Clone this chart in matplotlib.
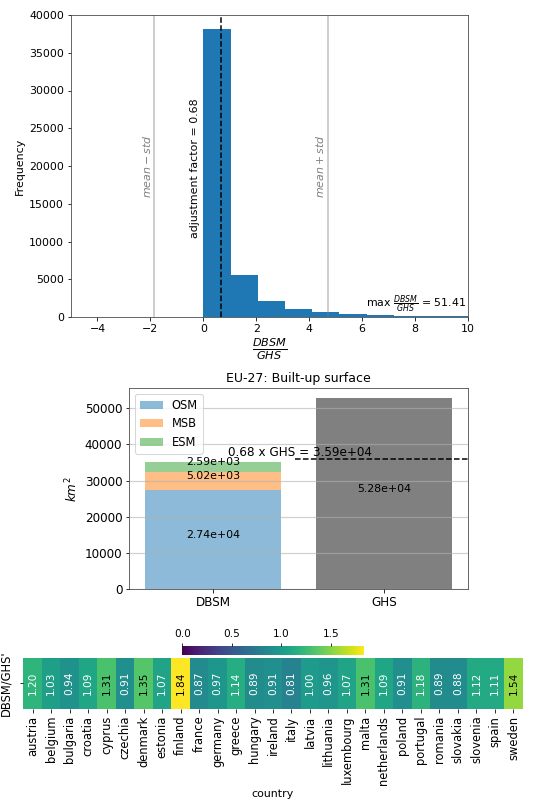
import numpy as np
import matplotlib
matplotlib.use("Agg")
import matplotlib.pyplot as plt
from matplotlib import colors

# --- histogram of DBSM/GHS ratio (50 bins between 0 and the max)
ratio_max = 51.41
hist_counts = [38200, 5550, 2080, 1100, 660, 360, 220, 170, 130, 100,
               80, 65, 52, 42, 35, 29, 24, 20, 17, 14,
               12, 10, 9, 8, 7, 6, 5, 5, 4, 4,
               3, 3, 3, 2, 2, 2, 2, 1, 1, 1,
               1, 1, 1, 1, 0, 0, 1, 0, 0, 1]
mean_minus_std = -1.87
mean_plus_std = 4.70
adj_factor = 0.68

# --- EU-27 built-up surface (km^2)
dbsm_parts = ["OSM", "MSB", "ESM"]
dbsm_values = [27400, 5020, 2590]
ghs_value = 52800

# --- per-country ratio
countries = ["austria", "belgium", "bulgaria", "croatia", "cyprus", "czechia",
             "denmark", "estonia", "finland", "france", "germany", "greece",
             "hungary", "ireland", "italy", "latvia", "lithuania", "luxembourg",
             "malta", "netherlands", "poland", "portugal", "romania", "slovakia",
             "slovenia", "spain", "sweden"]
country_ratio = [1.20, 1.03, 0.94, 1.09, 1.31, 0.91, 1.35, 1.07, 1.84, 0.87,
                 0.97, 1.14, 0.89, 0.91, 0.81, 1.00, 0.96, 1.07, 1.31, 1.09,
                 0.91, 1.18, 0.89, 0.88, 1.12, 1.11, 1.54]

plt.rcParams["font.size"] = 11
plt.rcParams["axes.edgecolor"] = "#444444"
W, H = 534, 802
fig = plt.figure(figsize=(W / 72, H / 72), dpi=72)


def box(l, r, t, b):
    return [l / W, 1 - b / H, (r - l) / W, (b - t) / H]


# ---------------- histogram
ax1 = fig.add_axes(box(71, 468, 15, 317))
edges = np.linspace(0, ratio_max, len(hist_counts) + 1)
ax1.hist(edges[:-1], bins=edges, weights=hist_counts, color="#1f77b4")
ax1.axvline(mean_minus_std, color="gray", alpha=0.5)
ax1.axvline(mean_plus_std, color="gray", alpha=0.5)
ax1.axvline(adj_factor, color="k", ls="--", lw=1.5)
ax1.text(mean_minus_std - 0.27, 15700, r"$mean - std$", rotation=90,
         color="gray", ha="center", va="bottom")
ax1.text(mean_plus_std - 0.28, 15700, r"$mean + std$", rotation=90,
         color="gray", ha="center", va="bottom")
ax1.text(adj_factor - 1.0, 10400, "adjustment factor = %.2f" % adj_factor,
         rotation=90, ha="center", va="bottom")
ax1.text(9.95, 250, r"max $\frac{DBSM}{GHS}$ = %.2f" % ratio_max,
         ha="right", va="bottom")
ax1.set_xlim(-5, 10)
ax1.set_ylim(0, 40000)
ax1.set_ylabel("Frequency")
ax1.set_xlabel(r"$\frac{DBSM}{GHS}$", fontsize=16, labelpad=2)

# ---------------- stacked bar
ax2 = fig.add_axes(box(129.3, 467.7, 388.3, 589.3))
bar_colors = ["#1f77b4", "#ff7f0e", "#2ca02c"]
bottom = 0
for name, val, c in zip(dbsm_parts, dbsm_values, bar_colors):
    ax2.bar("DBSM", val, bottom=bottom, color=c, alpha=0.5, label=name)
    ax2.text(0, bottom + val / 2, "%.2e" % val, ha="center", va="bottom", fontsize=11)
    bottom += val
ax2.bar("GHS", ghs_value, color="gray")
ax2.text(1, ghs_value / 2, "%.2e" % ghs_value, ha="center", va="bottom", fontsize=11)
adj = adj_factor * ghs_value
ax2.axhline(adj, xmin=0.49, xmax=1.0, color="k", ls="--", lw=1.5)
ax2.text(0.09, adj, "%.2f x GHS = %.2e" % (adj_factor, adj),
         ha="left", va="bottom", fontsize=12)
ax2.grid(axis="y", color="#b0b0b0", alpha=0.6, lw=1.2)
ax2.set_axisbelow(False)
ax2.tick_params(labelsize=12)
ax2.set_ylabel("$km^2$", fontsize=12)
ax2.set_title("EU-27: Built-up surface", fontsize=12.5)
ax2.legend(loc="upper left", fontsize=11.5)

# ---------------- heatmap
ax3 = fig.add_axes(box(23.3, 522.7, 657.7, 708.7))
cax = fig.add_axes(box(182.3, 364.3, 645.7, 655))
vals = np.array([country_ratio])
norm = colors.Normalize(vmin=0, vmax=max(country_ratio))
cmap = plt.get_cmap("viridis")
mesh = ax3.pcolormesh(vals, cmap=cmap, norm=norm)
for i, v in enumerate(country_ratio):
    rgb = np.array(cmap(norm(v))[:3])
    lin = np.where(rgb <= 0.03928, rgb / 12.92, ((rgb + 0.055) / 1.055) ** 2.4)
    lum = 0.2126 * lin[0] + 0.7152 * lin[1] + 0.0722 * lin[2]
    ax3.text(i + 0.5, 0.5, "%.2f" % v, rotation=90, ha="center", va="center",
             fontsize=10.5, color="black" if lum > 0.408 else "white")
ax3.set_xlim(0, len(countries))
ax3.set_ylim(1, 0)
ax3.set_xticks(np.arange(len(countries)) + 0.5)
ax3.set_xticklabels(countries, rotation=90, fontsize=11.5)
ax3.set_yticks([0.5])
ax3.set_yticklabels([""])
for s in ax3.spines.values():
    s.set_visible(False)
ax3.set_xlabel("country", fontsize=11)
ax3.set_ylabel("DBSM/GHS'", fontsize=11.5)
cb = fig.colorbar(mesh, cax=cax, orientation="horizontal")
cb.outline.set_visible(False)
cb.set_ticks([0.0, 0.5, 1.0, 1.5])
cax.tick_params(labelsize=10.5)
cax.xaxis.set_ticks_position("top")
cax.xaxis.set_label_position("top")

fig.savefig("out.png", dpi=72)
